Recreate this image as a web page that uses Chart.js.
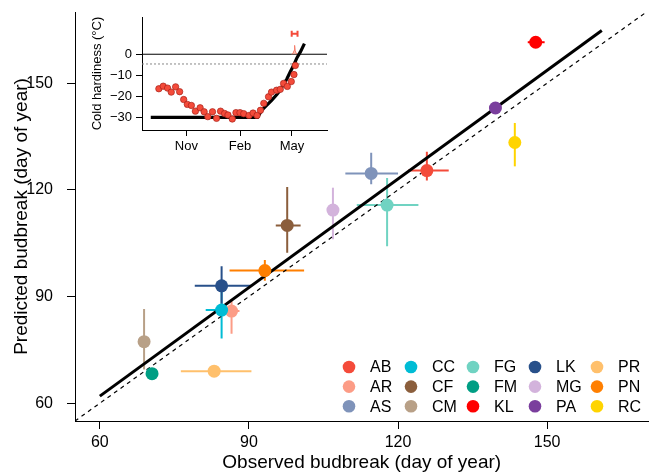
<!DOCTYPE html>
<html>
<head>
<meta charset="utf-8">
<script src="https://cdn.jsdelivr.net/npm/chart.js@4.4.0/dist/chart.umd.min.js"></script>
<style>
  html, body { margin: 0; padding: 0; background: #fff; overflow: hidden; }
  #wrap { position: relative; width: 650px; height: 475px; overflow: hidden; }
  #main, #inset { position: absolute; left: 0; top: 0; }
</style>
</head>
<body>
<div id="wrap">
  <!-- 5px wider than the page: chart.js keeps a small gap on the right, the reference plot runs to the edge -->
  <canvas id="main" width="655" height="475"></canvas>
  <canvas id="inset" width="340" height="165"></canvas>
</div>
<script>
// main panel: observed vs predicted budbreak per site
const sites = ['AB', 'AR', 'AS', 'CC', 'CF', 'CM', 'FG', 'FM', 'KL', 'LK', 'MG', 'PA', 'PR', 'PN', 'RC'];
const siteColors = ['#F44B3A', '#FC9C86', '#7F93BA', '#00BCD5', '#8B5E3C', '#B8A087', '#70D3C2', '#009E84',
  '#FF0000', '#28508A', '#D3B3DC', '#7A3E9D', '#FFC06C', '#FF7F00', '#FFD400'];
const observed = [125.8, 86.5, 114.6, 84.5, 97.7, 68.9, 117.8, 70.5, 147.7, 84.5, 106.9, 139.6, 83.0, 93.2, 143.5];
const predicted = [125.4, 85.9, 124.6, 86.2, 110.0, 77.3, 115.7, 68.3, 161.5, 93.0, 114.3, 143.0, 69.0, 97.3, 133.3];
const observedLow = [122.0, 84.9, 109.4, 81.3, 95.4, 68.9, 111.7, 70.5, 146.1, 79.1, 106.9, 139.6, 76.3, 86.1, 143.5];
const observedHigh = [130.2, 88.1, 120.0, 87.3, 100.4, 68.9, 124.1, 70.5, 149.5, 90.5, 106.9, 139.6, 90.5, 101.1, 143.5];
const predictedLow = [122.6, 79.5, 121.6, 78.2, 102.3, 69.5, 104.1, 68.3, 161.5, 88.0, 106.1, 143.0, 69.0, 94.4, 126.6];
const predictedHigh = [130.7, 89.3, 130.4, 93.5, 120.8, 86.5, 123.3, 68.3, 161.5, 98.5, 120.6, 143.0, 69.0, 100.3, 138.8];
const fitX = [60, 161];
const fitY = [62, 164.8];
const oneToOne = [55, 171];
const mainTicks = [60, 90, 120, 150];

// inset: cold hardiness through the season (day 0 = 1 Oct)
const hardinessDay = [-16.1, -8.6, -1.2, 5.1, 12.6, 19.5, 26.4, 32.7, 39.6, 46.5, 54.6, 61.5, 67.8, 75.8, 82.7, 89.6,
  96.5, 102.3, 109.7, 116.0, 122.9, 129.3, 138.4, 145.3, 152.2, 158.0, 163.7, 171.8, 176.9, 185.6, 191.9, 197.6,
  204.0, 210.8, 215.4, 217.7];
const hardinessTemp = [-16.3, -15.1, -16.0, -17.9, -15.4, -17.7, -21.4, -23.7, -24.2, -26.9, -25.3, -27.2, -29.5,
  -27.2, -30.3, -26.9, -28.0, -28.7, -30.6, -27.6, -27.6, -28.1, -28.9, -27.8, -28.9, -26.5, -23.2, -20.1, -17.9,
  -17.0, -16.6, -13.8, -15.2, -12.9, -9.6, -5.3];
const modelDay = [-30, 153, 160.3, 168.9, 177.5, 186.1, 191.9, 197.6, 203.4, 209.1, 214.9, 220.6, 226.4, 233.3];
const modelTemp = [-29.8, -29.8, -26.4, -24.0, -21.7, -19.0, -17.0, -14.1, -11.6, -8.3, -5.2, -1.6, 1.1, 5.0];
const thresholdTemp = -4.6;
const budbreakDay = [211.5, 221.5];
const budbreakMark = 9.7;
const spikeDay = [211.5, 214, 215.5, 216.5, 217.5, 219, 221.5];
const spikeTemp = [0, 0.5, 1.8, 4.2, 1.8, 0.5, 0];
const insetTicks = [31, 123, 212];
const insetTickLabels = ['Nov', 'Feb', 'May'];
const insetYTicks = [-30, -20, -10, 0];
const insetXRange = [-45, 272];

const FONT = "'Liberation Sans', Arial, Helvetica, sans-serif";

// drop the extra room Chart.js keeps for edge tick labels
function noEdgePad(s) {
  s.paddingTop = 0; s.paddingBottom = 0; s.paddingLeft = 0; s.paddingRight = 0;
}

const errorBars = {
  id: 'errorBars',
  beforeDatasetsDraw(chart) {
    const { ctx, scales: { x, y } } = chart;
    ctx.save();
    ctx.lineWidth = 2;
    sites.forEach((s, i) => {
      ctx.strokeStyle = siteColors[i];
      ctx.beginPath();
      ctx.moveTo(x.getPixelForValue(observedLow[i]), y.getPixelForValue(predicted[i]));
      ctx.lineTo(x.getPixelForValue(observedHigh[i]), y.getPixelForValue(predicted[i]));
      ctx.moveTo(x.getPixelForValue(observed[i]), y.getPixelForValue(predictedLow[i]));
      ctx.lineTo(x.getPixelForValue(observed[i]), y.getPixelForValue(predictedHigh[i]));
      ctx.stroke();
    });
    ctx.restore();
  }
};

const siteLegend = {
  id: 'siteLegend',
  afterDatasetsDraw(chart) {
    const ctx = chart.ctx;
    ctx.save();
    ctx.font = '16px ' + FONT;
    ctx.textBaseline = 'middle';
    sites.forEach((s, i) => {
      const col = Math.floor(i / 3), row = i % 3;
      const cx = 349 + col * 62;
      const cy = 367 + row * 19.6;
      ctx.fillStyle = siteColors[i];
      ctx.beginPath();
      ctx.arc(cx, cy, 6.3, 0, Math.PI * 2);
      ctx.fill();
      ctx.fillStyle = '#000';
      ctx.fillText(s, cx + 21, cy + 1);
    });
    ctx.restore();
  }
};

const axisStyle = {
  grid: { drawOnChartArea: false, drawTicks: true, tickLength: 8, color: '#000', lineWidth: 1 },
  border: { display: true, color: '#000', width: 1 }
};

new Chart(document.getElementById('main'), {
  type: 'scatter',
  data: {
    datasets: [
      {
        label: 'sites',
        data: sites.map((s, i) => ({ x: observed[i], y: predicted[i] })),
        pointBackgroundColor: siteColors,
        pointBorderWidth: 0,
        pointRadius: 6.5,
        order: 0
      },
      {
        label: 'fit',
        data: fitX.map((x, i) => ({ x: x, y: fitY[i] })),
        showLine: true,
        borderColor: '#000',
        borderWidth: 3,
        pointRadius: 0,
        order: 1
      },
      {
        label: '1:1',
        data: oneToOne.map(v => ({ x: v, y: v })),
        showLine: true,
        borderColor: '#000',
        borderWidth: 1.2,
        borderDash: [4, 4],
        pointRadius: 0,
        order: 2
      }
    ]
  },
  options: {
    responsive: false,
    animation: false,
    events: [],
    layout: { padding: { left: 0, right: 0, top: 12, bottom: 0 } },
    plugins: { legend: { display: false }, tooltip: { enabled: false } },
    scales: {
      x: {
        type: 'linear', min: 55, max: 170.4,
        afterBuildTicks: s => { s.ticks = mainTicks.map(v => ({ value: v })); },
        afterFit: s => { s.height = 54; noEdgePad(s); },
        ...axisStyle,
        ticks: { color: '#000', font: { family: FONT, size: 16 }, padding: 4, maxRotation: 0 },
        title: { display: true, text: 'Observed budbreak (day of year)', color: '#000',
          font: { family: FONT, size: 19 }, padding: { top: 0, bottom: 1 } }
      },
      y: {
        type: 'linear', min: 55, max: 170,
        afterBuildTicks: s => { s.ticks = mainTicks.map(v => ({ value: v })); },
        afterFit: s => { s.width = 75; noEdgePad(s); },
        ...axisStyle,
        ticks: { color: '#000', font: { family: FONT, size: 16 }, padding: 14 },
        title: { display: true, text: 'Predicted budbreak (day of year)', color: '#000',
          font: { family: FONT, size: 19 }, padding: { top: 10, bottom: 0 } }
      }
    }
  },
  plugins: [errorBars, siteLegend]
});

const budbreakBar = {
  id: 'budbreakBar',
  afterDatasetsDraw(chart) {
    const { ctx, scales: { x, y } } = chart;
    const x0 = x.getPixelForValue(budbreakDay[0]);
    const x1 = x.getPixelForValue(budbreakDay[1]);
    const yy = y.getPixelForValue(budbreakMark);
    ctx.save();
    ctx.strokeStyle = '#F44B3A';
    ctx.lineWidth = 2;
    ctx.beginPath();
    ctx.moveTo(x0, yy); ctx.lineTo(x1, yy);
    ctx.moveTo(x0, yy - 3); ctx.lineTo(x0, yy + 3);
    ctx.moveTo(x1, yy - 3); ctx.lineTo(x1, yy + 3);
    ctx.stroke();
    ctx.restore();
  }
};

new Chart(document.getElementById('inset'), {
  type: 'scatter',
  data: {
    datasets: [
      {
        label: 'observed hardiness',
        data: hardinessDay.map((d, i) => ({ x: d, y: hardinessTemp[i] })),
        pointBackgroundColor: '#F44B3A',
        pointBorderColor: '#A8231A',
        pointBorderWidth: 0.7,
        pointRadius: 3.2,
        order: 0
      },
      {
        label: 'model',
        data: modelDay.map((d, i) => ({ x: d, y: modelTemp[i] })),
        showLine: true,
        borderColor: '#000',
        borderWidth: 3.2,
        pointRadius: 0,
        order: 1
      },
      {
        label: 'budbreak',
        data: spikeDay.map((d, i) => ({ x: d, y: spikeTemp[i] })),
        showLine: true,
        borderColor: 'rgba(244,110,90,0.8)',
        backgroundColor: 'rgba(248,150,130,0.6)',
        borderWidth: 1,
        fill: { value: 0 },
        pointRadius: 0,
        order: 2
      },
      {
        label: 'zero',
        data: insetXRange.map(d => ({ x: d, y: 0 })),
        showLine: true,
        borderColor: '#000',
        borderWidth: 1,
        pointRadius: 0,
        order: 3
      },
      {
        label: 'threshold',
        data: insetXRange.map(d => ({ x: d, y: thresholdTemp })),
        showLine: true,
        borderColor: '#888',
        borderWidth: 1,
        borderDash: [2, 2],
        pointRadius: 0,
        order: 4
      }
    ]
  },
  options: {
    responsive: false,
    animation: false,
    events: [],
    layout: { padding: { left: 85, right: 13, top: 17, bottom: 0 } },
    plugins: { legend: { display: false }, tooltip: { enabled: false } },
    scales: {
      x: {
        type: 'linear', min: insetXRange[0], max: insetXRange[1],
        afterBuildTicks: s => { s.ticks = insetTicks.map(v => ({ value: v })); },
        afterFit: s => { s.height = 35; noEdgePad(s); },
        grid: { drawOnChartArea: false, drawTicks: true, tickLength: 6, color: '#000', lineWidth: 1 },
        border: { display: true, color: '#000', width: 1 },
        ticks: { color: '#000', font: { family: FONT, size: 13 }, padding: 3, maxRotation: 0,
          callback: v => insetTickLabels[insetTicks.indexOf(v)] }
      },
      y: {
        type: 'linear', min: -35.8, max: 17.6,
        afterBuildTicks: s => { s.ticks = insetYTicks.map(v => ({ value: v })); },
        afterFit: s => { s.width = 57; noEdgePad(s); },
        grid: { drawOnChartArea: false, drawTicks: true, tickLength: 6, color: '#000', lineWidth: 1 },
        border: { display: true, color: '#000', width: 1 },
        ticks: { color: '#000', font: { family: FONT, size: 13 }, padding: 4,
          callback: v => (v < 0 ? '\u2212' + (-v) : '' + v) },
        title: { display: true, text: 'Cold hardiness (°C)', color: '#000',
          font: { family: FONT, size: 13 }, padding: { top: 5, bottom: 0 } }
      }
    }
  },
  plugins: [budbreakBar]
});
</script>
</body>
</html>
